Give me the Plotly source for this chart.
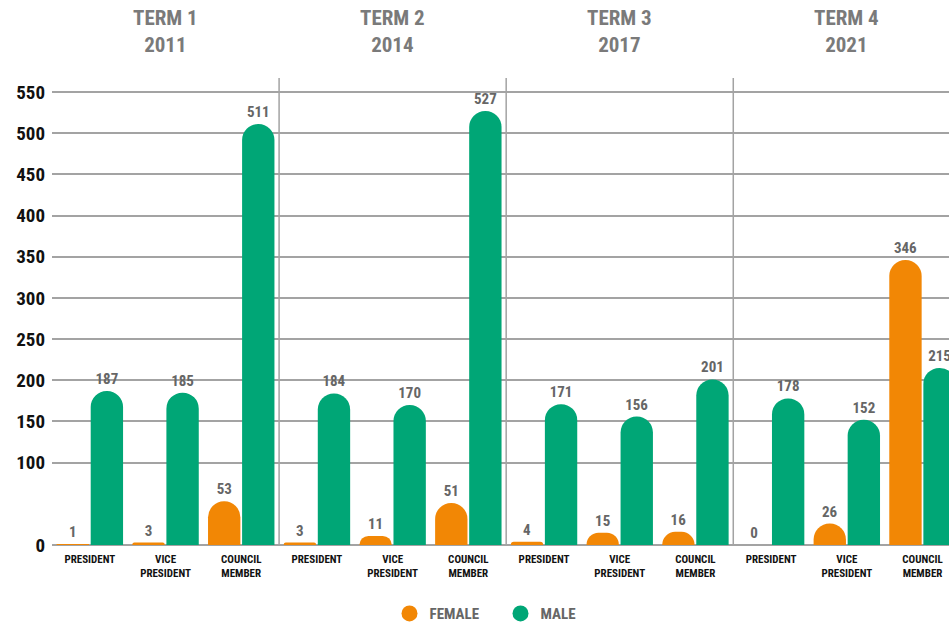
import plotly.graph_objects as go

terms = ["TERM 1", "TERM 2", "TERM 3", "TERM 4"]
years = ["2011", "2014", "2017", "2021"]
roles = ["PRESIDENT", "VICE<br>PRESIDENT", "COUNCIL<br>MEMBER"]
female = [1, 3, 53, 3, 11, 51, 4, 15, 16, 0, 26, 346]
male = [187, 185, 511, 184, 170, 527, 171, 156, 201, 178, 152, 215]
y_ticks = [0, 100, 150, 200, 250, 300, 350, 400, 450, 500, 550]

ORANGE = "#F28705"
GREEN = "#00A676"
GRID = "#a3a3a3"
FONT = "Roboto Condensed, Roboto, Arial"

x_ids = [f"{t}|{r}" for t in terms for r in roles]
x_text = [r for t in terms for r in roles]

fig = go.Figure()
for name, vals, col in [("FEMALE", female, ORANGE), ("MALE", male, GREEN)]:
    fig.add_trace(go.Bar(
        x=x_ids, y=vals, name=name, marker=dict(color=col, line=dict(width=0)),
        text=[str(v) for v in vals], textposition="outside",
        textfont=dict(family=FONT, size=15, color="#666666", weight="bold"),
        showlegend=False, cliponaxis=True,
    ))
# legend entries with circular markers
for name, col in [("FEMALE", ORANGE), ("MALE", GREEN)]:
    fig.add_trace(go.Scatter(x=[None], y=[None], mode="markers", name=name,
                             marker=dict(color=col, size=22, symbol="circle")))

n_roles = len(roles)
shapes = []
for i in range(1, len(terms)):
    xpos = i * n_roles - 0.5
    shapes.append(dict(type="line", xref="x", yref="paper", x0=xpos, x1=xpos,
                       y0=0, y1=1, line=dict(color=GRID, width=1.5), layer="below"))

annotations = []
for i, (t, yr) in enumerate(zip(terms, years)):
    xc = i * n_roles + (n_roles - 1) / 2
    annotations.append(dict(text=f"{t}<br>{yr}", x=xc, xref="x", y=(545 - 32) / 467, yref="paper",
                            showarrow=False, yanchor="middle",
                            font=dict(family=FONT, size=21, color="#7a7a7a", weight="bold")))

fig.update_layout(
    width=949, height=625,
    margin=dict(l=52, r=0, t=78, b=80, autoexpand=False),
    paper_bgcolor="white", plot_bgcolor="white",
    barmode="group", bargap=0.1, bargroupgap=0.05, barcornerradius="50%",
    shapes=shapes, annotations=annotations,
    legend=dict(orientation="h", x=0.5, xanchor="center", y=-0.147, yanchor="middle",
                font=dict(family=FONT, size=15, color="#666666", weight="bold"),
                itemsizing="trace", entrywidth=66),
    xaxis=dict(type="category", categoryorder="array", categoryarray=x_ids,
               range=[-0.5, 11.35], tickvals=x_ids, ticktext=x_text, automargin=False,
               showgrid=False, showline=False, ticks="", ticklabelstandoff=6,
               tickfont=dict(family=FONT, size=11, color="#111111", weight="bold")),
    yaxis=dict(range=[0, 567], tickvals=y_ticks, ticktext=[str(v) for v in y_ticks],
               automargin=False,
               showgrid=True, gridcolor=GRID, gridwidth=1.5,
               zeroline=True, zerolinecolor=GRID, zerolinewidth=1.5,
               ticks="", ticklabelstandoff=6,
               tickfont=dict(family=FONT, size=19, color="#111111", weight="bold")),
)

fig.write_html("out.html", config={"displayModeBar": False},
               post_script="document.body.style.margin='0';")
